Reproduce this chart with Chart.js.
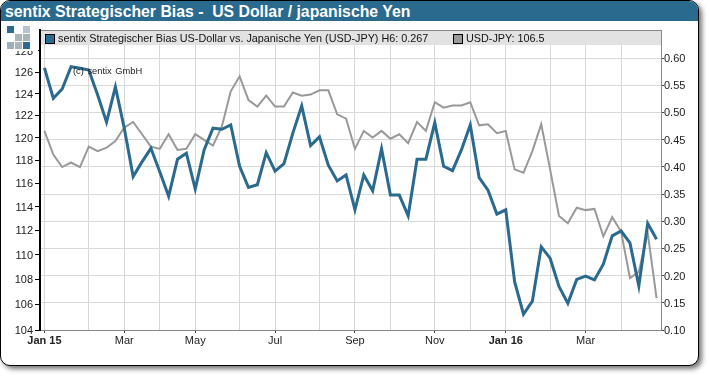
<!DOCTYPE html>
<html>
<head>
<meta charset="utf-8">
<script src="https://cdn.jsdelivr.net/npm/chart.js@4"></script>
<style>
body { margin: 0; background: #fff; font-family: "Liberation Sans", Arial, sans-serif; }
#frame { position: absolute; left: 0; top: 0; width: 697px; height: 364px; border: 1px solid #000; border-radius: 10px; box-shadow: 3px 3px 5px #777; background: #fff; overflow: hidden; }
#header { height: 20px; background: #2a6a8e; color: #fff; font-weight: bold; font-size: 15.8px; line-height: 21px; padding-left: 4px; white-space: pre; }
#chartBox { position: absolute; left: 0; top: 0; width: 710px; height: 376px; }
#band { position: absolute; left: 41px; top: 30px; width: 620px; height: 14px; background: #e2e2e2; border-top: 1px solid #888; font-size: 10.8px; line-height: 15px; color: #111; }
#band span { position: absolute; top: 0; white-space: pre; }
#band i { position: absolute; top: 3px; width: 8px; height: 8px; border: 1px solid #000; }
#logo { position: absolute; left: 4px; top: 24px; width: 34px; height: 27px; background: #fff; }
#logo b { position: absolute; width: 7px; height: 7px; }
#copy { position: absolute; left: 73px; top: 65px; font-size: 9.3px; line-height: 12px; color: #222; word-spacing: 1px; }
</style>
</head>
<body>
<div id="frame"><div id="header">sentix Strategischer Bias -  US Dollar / japanische Yen</div></div>
<div id="chartBox"><canvas id="biasChart" width="710" height="376"></canvas></div>
<div id="logo"></div>
<div id="band">
  <i style="left:4px;background:#2a6a8e"></i><span id="biasLabel" style="left:17px"></span>
  <i style="left:412px;background:#999"></i><span id="usdLabel" style="left:425px"></span>
</div>
<div id="copy">(c) sentix GmbH</div>
<script>
// weekly values, Jan 2015 - Apr 2016
const biasValues = [0.582, 0.526, 0.543, 0.584, 0.581, 0.578, 0.532, 0.482, 0.547, 0.471,
  0.382, 0.409, 0.434, 0.391, 0.346, 0.414, 0.425, 0.359, 0.431, 0.471,
  0.469, 0.477, 0.401, 0.362, 0.367, 0.426, 0.392, 0.406, 0.462, 0.512,
  0.439, 0.455, 0.403, 0.374, 0.385, 0.321, 0.385, 0.356, 0.433, 0.348,
  0.348, 0.310, 0.414, 0.414, 0.481, 0.401, 0.393, 0.431, 0.477, 0.380,
  0.357, 0.313, 0.321, 0.189, 0.129, 0.153, 0.253, 0.232, 0.180, 0.149,
  0.193, 0.199, 0.192, 0.221, 0.273, 0.282, 0.260, 0.181, 0.296, 0.267];
const usdJpyValues = [120.6, 118.5, 117.4, 117.8, 117.4, 119.2, 118.8, 119.1, 119.7, 120.9,
  121.4, 120.3, 119.2, 119.0, 120.3, 118.9, 119.0, 120.3, 119.8, 119.3,
  121.0, 124.2, 125.6, 123.4, 122.8, 123.8, 122.8, 122.8, 124.1, 123.8,
  123.9, 124.3, 124.3, 122.1, 121.7, 119.0, 120.6, 120.0, 120.6, 119.9,
  120.3, 119.5, 121.4, 120.6, 123.2, 122.7, 122.9, 122.9, 123.2, 121.1,
  121.2, 120.4, 120.6, 117.2, 116.9, 118.8, 121.2, 117.2, 113.2, 112.6,
  113.9, 113.7, 113.8, 111.5, 113.1, 111.9, 108.1, 108.6, 111.8, 106.5];

// first week of every month, as index into the weekly values
const monthWeeks = [0, 5, 9, 13, 17, 22, 26, 31, 35, 39, 44, 48, 52, 57, 61, 65];
const monthLabels = ['Jan 15', '', 'Mar', '', 'May', '', 'Jul', '', 'Sep', '', 'Nov', '', 'Jan 16', '', 'Mar', ''];
const leftTicks = [104, 106, 108, 110, 112, 114, 116, 118, 120, 122, 124, 126, 128];
const rightTicks = [0.10, 0.15, 0.20, 0.25, 0.30, 0.35, 0.40, 0.45, 0.50, 0.55, 0.60];

document.getElementById('biasLabel').textContent =
  'sentix Strategischer Bias US-Dollar vs. Japanische Yen (USD-JPY) H6: ' + biasValues[biasValues.length - 1];
document.getElementById('usdLabel').textContent = 'USD-JPY: ' + usdJpyValues[usdJpyValues.length - 1];

// little logo squares
const logoSquares = [[3, 2, '#2a6a8e'], [19, 2, '#b8c4cc'], [11, 10, '#a8b4bc'], [19, 10, '#a8b4bc'], [3, 18, '#9fb0bc'], [11, 18, '#a8b4bc'], [19, 18, '#2a6a8e']];
logoSquares.forEach(s => {
  const b = document.createElement('b');
  b.style.cssText = `left:${s[0]}px;top:${s[1]}px;background:${s[2]}`;
  document.getElementById('logo').appendChild(b);
});

const tickFont = { family: '"Liberation Sans", Arial, sans-serif', size: 11 };

new Chart(document.getElementById('biasChart'), {
  type: 'line',
  data: {
    labels: biasValues.map((v, i) => i),
    datasets: [{
      label: 'sentix Strategischer Bias',
      data: biasValues,
      yAxisID: 'yBias',
      borderColor: '#2a6a8e',
      borderWidth: 3,
      pointRadius: 0,
      tension: 0
    }, {
      label: 'USD-JPY',
      data: usdJpyValues,
      yAxisID: 'yUsd',
      borderColor: '#999',
      borderWidth: 2,
      pointRadius: 0,
      tension: 0
    }]
  },
  options: {
    responsive: false,
    animation: false,
    layout: { padding: { top: 30, bottom: 16 } },
    plugins: { legend: { display: false }, tooltip: { enabled: false } },
    scales: {
      x: {
        type: 'category',
        offset: true,
        afterBuildTicks: s => { s.ticks = monthWeeks.map(w => ({ value: w })); },
        afterFit: s => { s.height = 30; },
        border: { color: '#888' },
        grid: {
          color: '#d8d8d8',
          tickLength: 3,
          tickColor: ctx => (ctx.index % 2 === 0 ? '#444' : 'transparent')
        },
        ticks: {
          autoSkip: false,
          maxRotation: 0,
          padding: 1,
          color: '#222',
          font: ctx => (ctx.index === 0 || ctx.index === 12 ? { ...tickFont, weight: 'bold' } : tickFont),
          callback: (value, index) => monthLabels[index]
        }
      },
      yUsd: {
        type: 'logarithmic',
        position: 'left',
        min: 104,
        max: 130,
        afterBuildTicks: s => { s.ticks = leftTicks.map(t => ({ value: t })); },
        afterFit: s => { s.width = 40; },
        border: { color: '#000', width: 2 },
        grid: { drawOnChartArea: false, tickLength: 5, tickColor: '#000' },
        ticks: { color: '#222', font: tickFont, padding: 2, labelOffset: 1, autoSkip: false, callback: v => v }
      },
      yBias: {
        type: 'linear',
        position: 'right',
        min: 0.1,
        max: 0.6515,
        afterBuildTicks: s => { s.ticks = rightTicks.map(t => ({ value: t })); },
        afterFit: s => { s.width = 49; },
        border: { color: '#888' },
        grid: { color: '#d8d8d8', tickLength: 3, tickColor: '#444' },
        ticks: { color: '#222', font: tickFont, padding: 0, labelOffset: 1, autoSkip: false, callback: v => v.toFixed(2) }
      }
    }
  }
});
</script>
</body>
</html>
